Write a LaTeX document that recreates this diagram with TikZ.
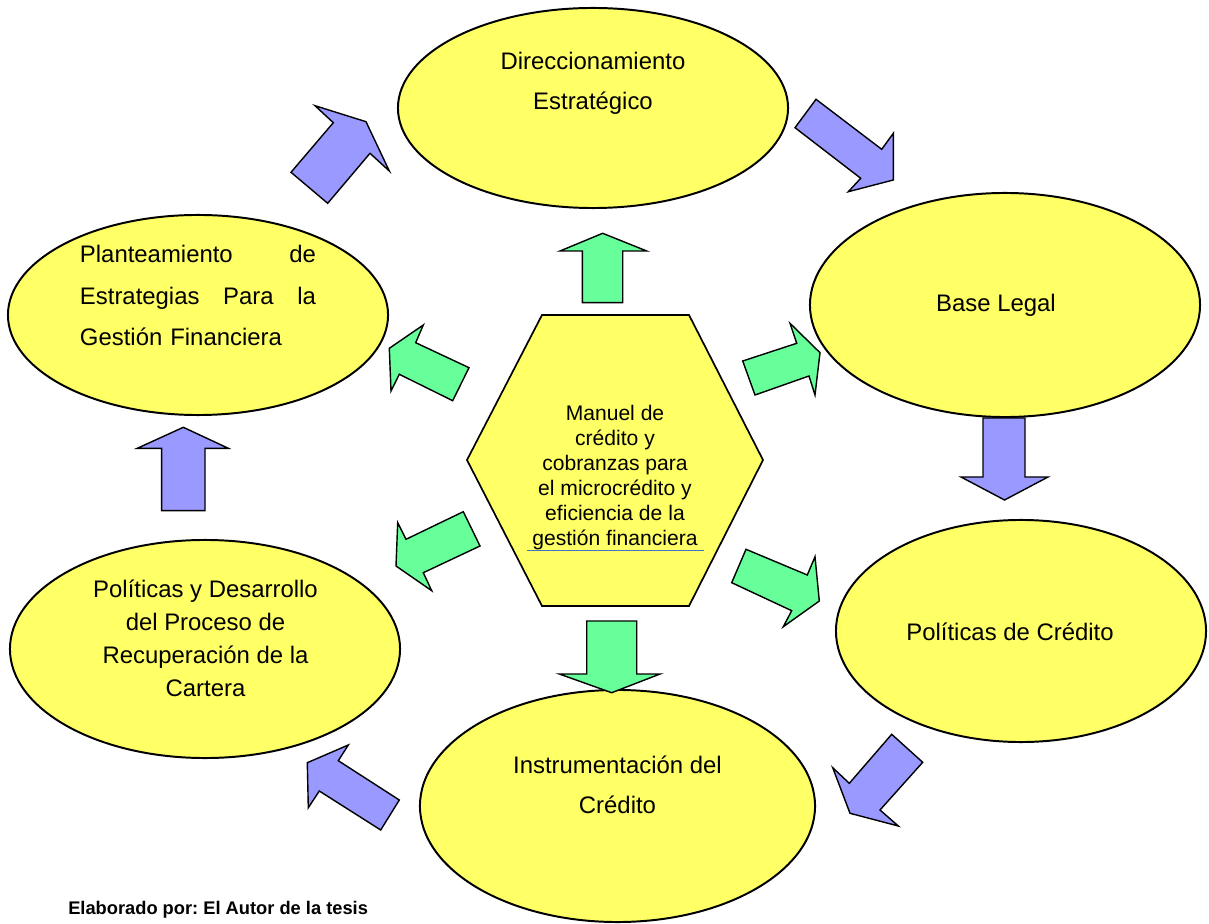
\documentclass[tikz,border=0pt]{standalone}
\usepackage{fontspec}
\setmainfont{Liberation Sans}
\usetikzlibrary{shapes.geometric}
\definecolor{ovalfill}{HTML}{FFFF66}
\definecolor{bluearrow}{HTML}{9999FF}
\definecolor{greenarrow}{HTML}{66FF99}
\definecolor{linkline}{HTML}{4472C4}
\frenchspacing

\begin{document}
\begin{tikzpicture}[x=0.025cm,y=-0.025cm,
  oval/.style={ellipse,draw=black,line width=1.4pt,fill=ovalfill,inner sep=0pt},
  hexa/.style={draw=black,line width=1.2pt,fill=ovalfill,line join=miter},
  bluearr/.style={draw=black,line width=1pt,fill=bluearrow,line join=miter},
  greenarr/.style={draw=black,line width=1pt,fill=greenarrow,line join=miter},
  label/.style={inner sep=0pt,align=center,font=\fontsize{17}{28.5}\selectfont},
  centre/.style={inner sep=0pt,align=center,font=\fontsize{15}{17.8}\selectfont}]
\useasboundingbox (0,0) rectangle (1209,924);
\fill[white] (0,0) rectangle (1209,924);

% outer ring of ellipses
\node[oval,minimum width=9.75cm,minimum height=5cm]    (dir)    at (593,108)   {};
\node[oval,minimum width=9.75cm,minimum height=5.6cm]  (base)   at (1005,305)  {};
\node[oval,minimum width=9.25cm,minimum height=5.55cm] (polcred) at (1021,631) {};
\node[oval,minimum width=9.875cm,minimum height=5.8cm] (instr)  at (617.5,806) {};
\node[oval,minimum width=9.75cm,minimum height=5.45cm] (polrec) at (205,649)   {};
\node[oval,minimum width=9.5cm,minimum height=5cm]     (plant)  at (198,315)   {};

% central hexagon
\draw[hexa] (542,315) -- (689,315) -- (763,460) -- (689,606) -- (542,606) -- (467,460) -- cycle;

% labels
\node[label] (tdir) at (593,83) {Direccionamiento\\Estratégico};
\node[label] (tbase) at (996,305) {Base Legal};
\node[label] (tpolcred) at (1010,632) {Políticas de Crédito};
\node[label] (tinstr) at (617.5,785) {Instrumentación del\\Crédito};
\node[label,font=\fontsize{17}{23.5}\selectfont] (tpolrec) at (205.5,638.5)
  {Políticas y Desarrollo\\del Proceso de\\Recuperación de la\\Cartera};
\node[label,align=left,text width=5.9cm,font=\fontsize{17}{29.2}\selectfont] (tplant) at (198,295.5)
  {Planteamiento\hfill de\\Estrategias\hfill Para\hfill la\\Gestión Financiera};
\node[centre] (tcentre) at (615,477.5)
  {Manuel de\\crédito y\\cobranzas para\\el microcrédito y\\eficiencia de la\\gestión financiera};
\draw[linkline,line width=0.7pt] (527,550) -- (704,550);

% blue arrows around the ring
\draw[bluearr] (315,105.7) -- (366,121.7) -- (389.3,171) -- (370,153.3) -- (327.7,203.3) -- (291,172.3) -- (333.3,122.7) -- cycle;
\draw[bluearr] (816,99.3) -- (881.7,149.3) -- (893.3,133.3) -- (893.3,180) -- (848.3,191.7) -- (860.7,178.3) -- (795,127.7) -- cycle;
\draw[bluearr] (983,418) -- (1025,418) -- (1025,477) -- (1048,477) -- (1004.5,500) -- (961,477) -- (983,477) -- cycle;
\draw[bluearr] (891.7,734.3) -- (922.7,762.3) -- (880,810) -- (898.3,826) -- (850,813.3) -- (832.7,767.7) -- (849.3,783.3) -- cycle;
\draw[bluearr] (348.3,745) -- (338.3,760.7) -- (399.3,800) -- (380.7,830) -- (319.3,791) -- (308.3,807.7) -- (307.3,762.7) -- cycle;
\draw[bluearr] (161.7,510.7) -- (205,510.7) -- (205,448.3) -- (228.3,448.3) -- (183.3,427.3) -- (137.3,448.3) -- (161.7,448.3) -- cycle;

% green arrows out of the hexagon
\draw[greenarr] (602.7,233.3) -- (646.7,251) -- (622.7,251) -- (622.7,302.7) -- (582.3,302.7) -- (582.3,251) -- (560,251) -- cycle;
\draw[greenarr] (790,323.3) -- (820,352.7) -- (815,395) -- (809,376) -- (755,395) -- (742.7,361) -- (796.7,343.3) -- cycle;
\draw[greenarr] (746,549.3) -- (807.3,575) -- (815,556.7) -- (819.3,601) -- (783.3,626.7) -- (791.7,610.7) -- (731.7,582.7) -- cycle;
\draw[greenarr] (586.7,621) -- (636.7,621) -- (636.7,674) -- (660,674) -- (611.7,692.7) -- (559.3,674) -- (586.7,674) -- cycle;
\draw[greenarr] (463.3,511.7) -- (480,546) -- (423.3,572.7) -- (431.7,590.7) -- (396,566) -- (397.7,522.7) -- (406,539.3) -- cycle;
\draw[greenarr] (423.3,325) -- (415.7,342.7) -- (469,367.7) -- (452.7,400.7) -- (399.3,374.3) -- (391,391) -- (389.3,348.3) -- cycle;

% source note
\node[anchor=west,inner sep=0pt,font=\bfseries\fontsize{13}{15}\selectfont] (note) at (68,910)
  {Elaborado por: El Autor de la tesis};
\end{tikzpicture}
\end{document}
